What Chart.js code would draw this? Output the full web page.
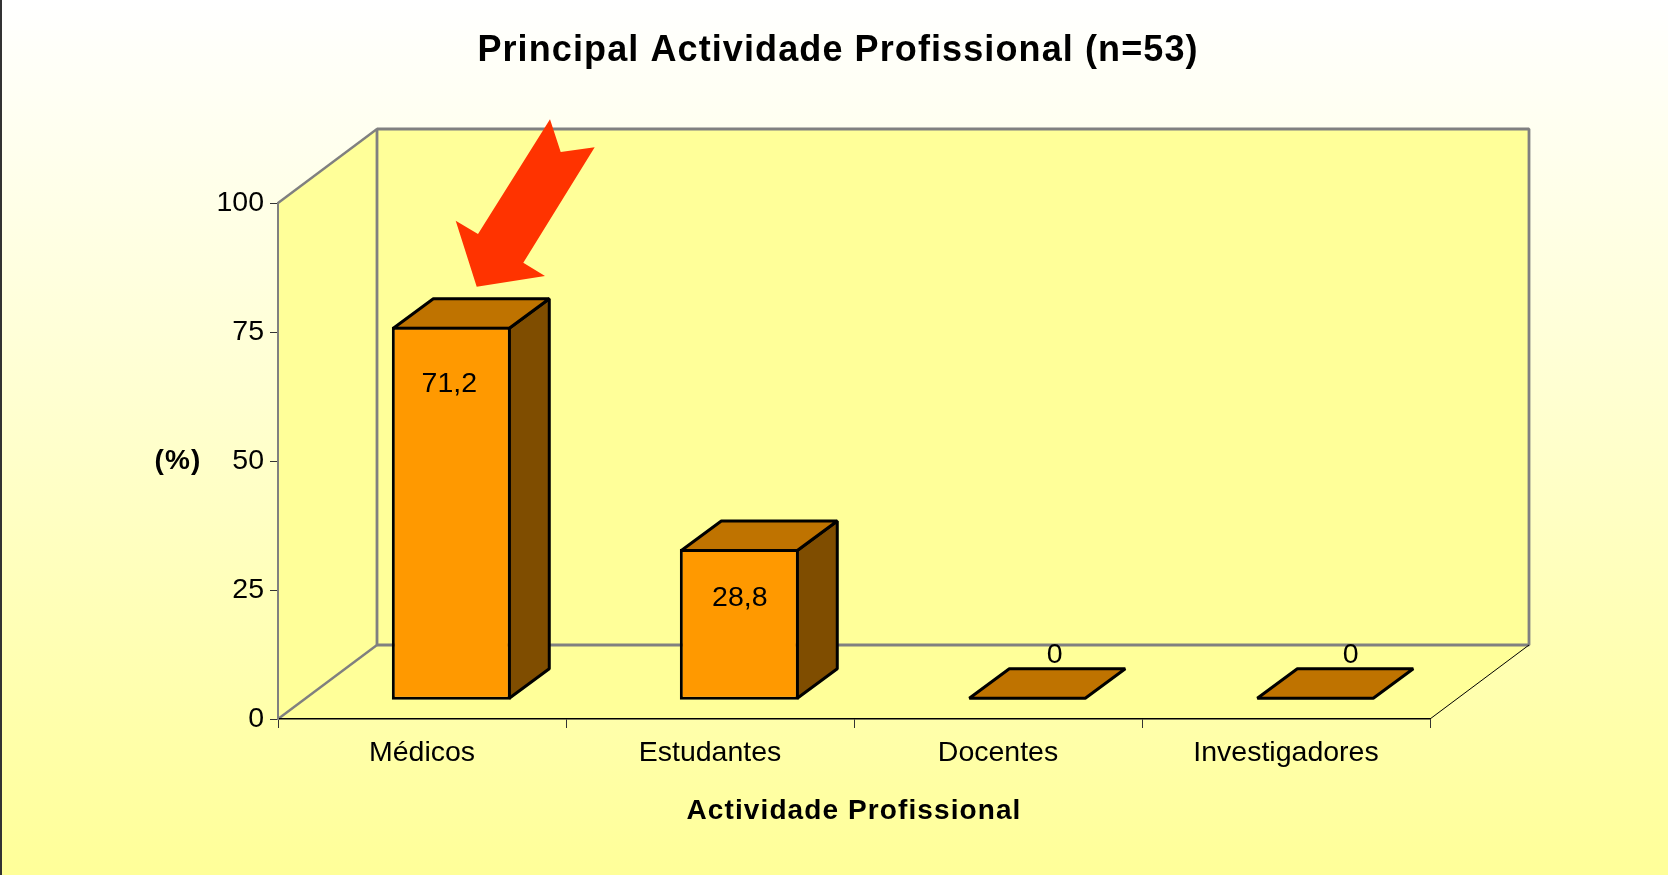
<!DOCTYPE html>
<html>
<head>
<meta charset="utf-8">
<style>
html,body{margin:0;padding:0;width:1668px;height:875px;overflow:hidden;background:#fff}
#wrap{position:relative;width:1668px;height:875px}
canvas{display:block}
</style>
<script src="https://cdn.jsdelivr.net/npm/chart.js@4/dist/chart.umd.min.js"></script>
</head>
<body>
<div id="wrap"><canvas id="c" width="1668" height="875"></canvas></div>
<script>
const categories = ['Médicos', 'Estudantes', 'Docentes', 'Investigadores'];
const values = [71.2, 28.8, 0, 0];
const valueLabels = ['71,2', '28,8', '0', '0'];
const yTicks = [0, 25, 50, 75, 100];
const titleText = 'Principal Actividade Profissional (n=53)';
const xTitleText = 'Actividade Profissional';
const yTitleText = '(%)';

const FONT = '"Liberation Sans", Arial, sans-serif';
const WALL = {dx: 99, dy: -74};
const BAR_SHIFT = {x: 29.3, y: -19.2};
const BAR_DEPTH = {dx: 40, dy: -29.5};
const BORDER = 3;
const LABEL_OFFSET = [[-2, 57.4], [0.5, 49], [27.5, -44.5], [35.5, -44.5]];
const ARROW = [[476.7,286.7],[545,276],[523.3,262.7],[594.7,147.3],[560.7,152],[550,119.3],[478,234],[455.7,220.7]];

function poly(ctx, pts, fill, stroke, lw) {
  ctx.beginPath();
  pts.forEach((p, i) => i ? ctx.lineTo(p[0], p[1]) : ctx.moveTo(p[0], p[1]));
  ctx.closePath();
  if (fill) { ctx.fillStyle = fill; ctx.fill(); }
  if (stroke) { ctx.strokeStyle = stroke; ctx.lineWidth = lw; ctx.lineJoin = 'bevel'; ctx.stroke(); }
}
function seg(ctx, a, b, color, lw) {
  ctx.beginPath(); ctx.moveTo(a[0], a[1]); ctx.lineTo(b[0], b[1]);
  ctx.strokeStyle = color; ctx.lineWidth = lw; ctx.stroke();
}

const scene3d = {
  id: 'scene3d',
  beforeInit(chart) {
    const ctx = chart.ctx;
    const fillText = ctx.fillText.bind(ctx);
    ctx.fillText = function (t, x, y, w) {
      ctx.letterSpacing = ctx.font.indexOf('bold') === 0 ? '1.1px' : '0px';
      if (w === undefined) fillText(t, x, y); else fillText(t, x, y, w);
    };
  },
  beforeDraw(chart) {
    const {ctx, chartArea: a, width, height} = chart;
    ctx.save();
    const g = ctx.createLinearGradient(0, 0, 0, height);
    g.addColorStop(0, '#FFFFFF');
    g.addColorStop(1, '#FFFF99');
    ctx.fillStyle = g;
    ctx.fillRect(0, 0, width, height);
    ctx.fillStyle = '#333333';
    ctx.fillRect(0, 0, 2, height);
    const d = WALL;
    const bl = [a.left, a.bottom], tl = [a.left, a.top], br = [a.right, a.bottom];
    const bbl = [a.left + d.dx, a.bottom + d.dy], btl = [a.left + d.dx, a.top + d.dy];
    const bbr = [a.right + d.dx, a.bottom + d.dy], btr = [a.right + d.dx, a.top + d.dy];
    poly(ctx, [bl, tl, btl, bbl], '#FFFF99');
    poly(ctx, [bl, bbl, bbr, br], '#FFFF99');
    poly(ctx, [bbl, btl, btr, bbr], '#FFFF99', '#808080', 2.8);
    seg(ctx, tl, btl, '#808080', 2.4);
    seg(ctx, bl, bbl, '#808080', 2.4);
    seg(ctx, br, bbr, '#000000', 1);
    ctx.restore();
  },
  beforeDatasetsDraw(chart) {
    const {ctx} = chart;
    const d = BAR_DEPTH;
    const i = BORDER / 2;
    ctx.save();
    ctx.translate(BAR_SHIFT.x, BAR_SHIFT.y);
    chart.getDatasetMeta(0).data.forEach(bar => {
      const l = bar.x - bar.width / 2 + i, r = bar.x + bar.width / 2 - i;
      const b = bar.base - i, t = Math.min(bar.y + i, b);
      if (b - t > 0.5) {
        poly(ctx, [[r, t], [r + d.dx, t + d.dy], [r + d.dx, b + d.dy], [r, b]], '#7F4D00', '#000', BORDER);
      }
      poly(ctx, [[l, t], [l + d.dx, t + d.dy], [r + d.dx, t + d.dy], [r, t]], '#BF7300', '#000', BORDER);
    });
  },
  afterDatasetsDraw(chart) {
    const {ctx} = chart;
    ctx.restore();
    ctx.save();
    ctx.fillStyle = '#000';
    ctx.font = '28.5px ' + FONT;
    ctx.textAlign = 'center';
    ctx.textBaseline = 'middle';
    chart.getDatasetMeta(0).data.forEach((bar, i) => {
      ctx.fillText(valueLabels[i],
        bar.x + BAR_SHIFT.x + LABEL_OFFSET[i][0],
        bar.y + BAR_SHIFT.y + LABEL_OFFSET[i][1]);
    });
    ctx.font = 'bold 28px ' + FONT;
    ctx.fillText(yTitleText, 178, 461);
    poly(ctx, ARROW, '#FF3300');
    ctx.restore();
  }
};

new Chart(document.getElementById('c'), {
  type: 'bar',
  data: {
    labels: categories,
    datasets: [{
      data: values,
      yAxisID: 'yBar',
      backgroundColor: '#FF9900',
      borderColor: '#000000',
      borderWidth: BORDER,
      borderSkipped: false,
      barPercentage: 0.413,
      categoryPercentage: 1,
      clip: false
    }]
  },
  plugins: [scene3d],
  options: {
    responsive: false,
    animation: false,
    events: [],
    layout: {padding: {left: 178, right: 170, top: 0, bottom: 0}},
    plugins: {
      legend: {display: false},
      tooltip: {enabled: false},
      title: {
        display: true,
        text: titleText,
        color: '#000',
        font: {family: FONT, size: 36, weight: 'bold', lineHeight: 1.2},
        padding: {top: 29.4, bottom: 130.4}
      }
    },
    scales: {
      x: {
        type: 'category',
        offset: true,
        afterFit(s) { s.height = 156; },
        border: {color: '#000', width: 1.5},
        grid: {display: true, drawOnChartArea: false, drawTicks: true, tickLength: 9, color: '#333', tickWidth: 1, offset: true},
        ticks: {color: '#000', font: {family: FONT, size: 28.5}, padding: 8, maxRotation: 0, autoSkip: false},
        title: {display: true, text: xTitleText, color: '#000', font: {family: FONT, size: 28, weight: 'bold', lineHeight: 1.2}, padding: {top: 0, bottom: 47}}
      },
      y: {
        type: 'linear',
        position: 'left',
        min: 0,
        max: 100,
        afterFit(s) { s.width = 100; },
        afterBuildTicks(s) { s.ticks = yTicks.map(v => ({value: v})); },
        border: {color: '#808080', width: 2},
        grid: {display: true, drawOnChartArea: false, drawTicks: true, tickLength: 8, color: '#333', tickWidth: 1},
        ticks: {color: '#000', font: {family: FONT, size: 28.5}, padding: 6, autoSkip: false}
      },
      yBar: {
        type: 'linear',
        position: 'right',
        min: 0,
        max: 98.5,
        afterFit(s) { s.width = 68; },
        border: {display: false},
        grid: {display: false},
        ticks: {display: false}
      }
    }
  }
});
</script>
</body>
</html>
